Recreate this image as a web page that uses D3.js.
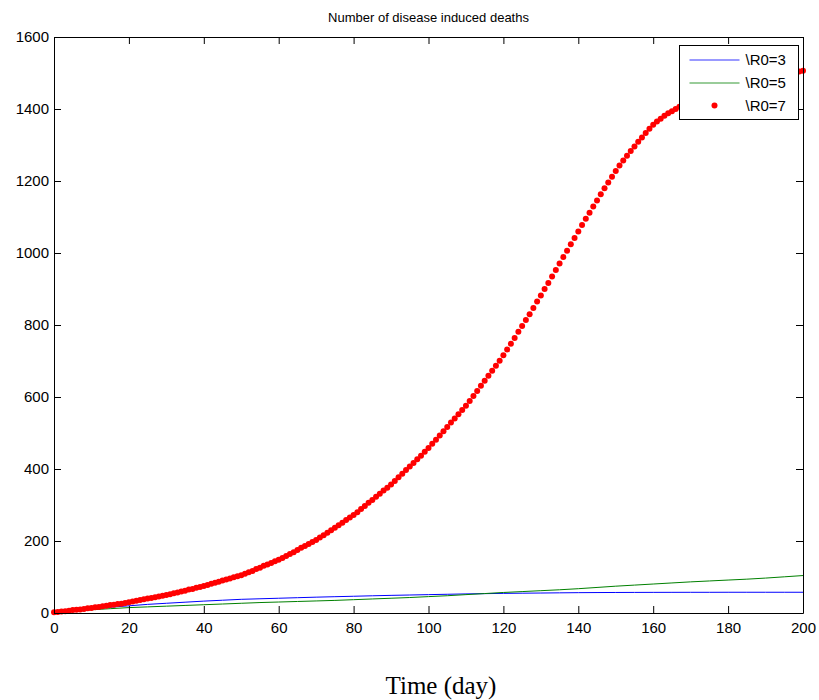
<!DOCTYPE html>
<html>
    <head>
        <meta charset="utf-8">
        <title>Number of disease induced deaths</title>
        <script src="https://d3js.org/d3.v7.min.js"></script>
        <style>
            body { margin: 0; background: #fff; }
            svg text { font-family: Arial, "Liberation Sans", Helvetica, sans-serif; fill: #000; }
        </style>
    </head>
    <body>
        <svg class="chart" width="819" height="700"></svg>

        <script>
            // time in days
            const days = d3.range(0, 201)        // daily points (R0=7 markers)
            const days5 = d3.range(0, 201, 5)    // every 5 days (R0=3, R0=5 lines)

            // R0=3 deaths, read every 5 days
            const deathsR3 = [0, 6, 11, 16, 20, 24, 27, 30, 33, 35.5, 38, 39.5, 41, 42.5, 44, 45.3, 46.5, 47.8, 49, 50,
                51, 52, 53, 53.8, 54.5, 55, 55.5, 56, 56.5, 56.8, 57, 57.2, 57.3, 57.4, 57.5, 57.5, 57.6, 57.6, 57.6, 57.6, 57.6]

            // R0=5 deaths, read every 5 days
            const deathsR5 = [0, 5, 9, 12, 15, 17, 19, 21, 23, 25, 27, 29, 30.5, 32, 33.5, 35, 37, 39, 41, 43,
                45.5, 48, 51, 54, 57, 59.5, 62, 64.5, 67.5, 71, 74.5, 77.5, 80.5, 83.5, 86.5, 89, 91.5, 94, 97, 100.5, 104]

            // R0=7 deaths, one value per day
            const deathsR7 = [2, 3, 4, 5, 6, 8, 9, 10, 11, 13, 14,
                16, 17, 19, 20, 22, 23, 25, 26, 28, 30,
                32, 34, 36, 38, 40, 42, 44, 46, 48, 50,
                52, 55, 57, 60, 62, 65, 67, 70, 72, 75,
                78, 81, 84, 87, 90, 93, 96, 99, 102, 105,
                109, 113, 117, 122, 126, 131, 135, 139, 144, 148,
                153, 158, 164, 169, 175, 181, 186, 192, 197, 203,
                210, 216, 223, 230, 237, 244, 251, 258, 265, 272,
                280, 289, 297, 306, 314, 323, 331, 340, 348, 357,
                367, 377, 387, 397, 407, 417, 427, 437, 448, 458,
                470, 481, 493, 505, 517, 529, 540, 552, 564, 576,
                589, 603, 617, 631, 645, 659, 673, 687, 701, 716,
                732, 748, 764, 781, 797, 814, 830, 847, 865, 882,
                900, 917, 935, 953, 971, 989, 1006, 1024, 1042, 1060,
                1078, 1095, 1112, 1129, 1146, 1163, 1180, 1196, 1212, 1228,
                1243, 1257, 1270, 1283, 1296, 1309, 1321, 1333, 1345, 1356,
                1365, 1373, 1381, 1388, 1394, 1400, 1406, 1411, 1417, 1422,
                1427, 1431, 1435, 1439, 1443, 1447, 1451, 1455, 1459, 1463,
                1466, 1469, 1471, 1474, 1476, 1479, 1481, 1484, 1486, 1488,
                1490, 1492, 1494, 1496, 1498, 1500, 1501, 1503, 1504, 1506]

            const xTicks = [0, 20, 40, 60, 80, 100, 120, 140, 160, 180, 200]
            const yTicks = [0, 200, 400, 600, 800, 1000, 1200, 1400, 1600]
            const legendLabels = ["\\R0=3", "\\R0=5", "\\R0=7"]

            const svg = d3.select("svg.chart")
            const plotLeft = 54, plotRight = 803, plotTop = 37, plotBottom = 613
            const tick = 7

            const xScale = d3.scaleLinear().domain([0, 200]).range([plotLeft, plotRight])
            const yScale = d3.scaleLinear().domain([0, 1600]).range([plotBottom, plotTop])

            // lines for R0=3 and R0=5
            const line = d3.line()
                .x((d, i) => xScale(days5[i]))
                .y(d => yScale(d))

            svg.append("path")
                .datum(deathsR3)
                .attr("fill", "none")
                .attr("stroke", "#0000ff")
                .attr("stroke-width", 1)
                .attr("d", line)

            svg.append("path")
                .datum(deathsR5)
                .attr("fill", "none")
                .attr("stroke", "#008000")
                .attr("stroke-width", 1)
                .attr("d", line)

            // R0=7 as red dots
            svg.append("g")
                .selectAll("circle")
                .data(deathsR7)
                .enter()
                .append("circle")
                    .attr("cx", (d, i) => xScale(days[i]))
                    .attr("cy", d => yScale(d))
                    .attr("r", 3)
                    .attr("fill", "#ff0000")

            // axes with inward ticks on all four sides
            const plain = d3.format("d")
            svg.append("g")
                .attr("transform", "translate(0," + plotBottom + ")")
                .call(d3.axisBottom(xScale).tickValues(xTicks).tickFormat(plain).tickSizeInner(-tick).tickSizeOuter(0).tickPadding(9))
            svg.append("g")
                .attr("transform", "translate(" + plotLeft + ",0)")
                .call(d3.axisLeft(yScale).tickValues(yTicks).tickFormat(plain).tickSizeInner(-tick).tickSizeOuter(0).tickPadding(5))
            svg.append("g")
                .attr("transform", "translate(0," + plotTop + ")")
                .call(d3.axisTop(xScale).tickValues(xTicks).tickSizeInner(-tick).tickSizeOuter(0).tickFormat(""))
            svg.append("g")
                .attr("transform", "translate(" + plotRight + ",0)")
                .call(d3.axisRight(yScale).tickValues(yTicks).tickSizeInner(-tick).tickSizeOuter(0).tickFormat(""))

            svg.selectAll(".tick text")
                .attr("font-size", 15)
                .attr("font-family", "Arial, 'Liberation Sans', sans-serif")
            svg.selectAll(".domain, .tick line").attr("stroke", "#000")

            // title and x label
            svg.append("text")
                .attr("x", (plotLeft + plotRight) / 2)
                .attr("y", 22)
                .attr("text-anchor", "middle")
                .attr("font-size", 13)
                .text("Number of disease induced deaths")

            svg.append("text")
                .attr("x", 441)
                .attr("y", 694)
                .attr("text-anchor", "middle")
                .attr("font-size", 25)
                .style("font-family", "'Times New Roman', 'Liberation Serif', serif")
                .text("Time (day)")

            // legend
            const legend = svg.append("g").attr("transform", "translate(679.5,45.5)")
            legend.append("rect")
                .attr("width", 119)
                .attr("height", 74)
                .attr("fill", "#fff")
                .attr("stroke", "#000")

            const colours = ["#0000ff", "#008000", "#ff0000"]
            legendLabels.forEach(function(label, i) {
                const ly = 14 + i * 23
                if (i < 2) {
                    legend.append("line")
                        .attr("x1", 10).attr("x2", 60)
                        .attr("y1", ly + 0.5).attr("y2", ly + 0.5)
                        .attr("stroke", colours[i])
                        .attr("stroke-opacity", 0.8)
                } else {
                    legend.append("circle")
                        .attr("cx", 35).attr("cy", ly)
                        .attr("r", 3)
                        .attr("fill", colours[i])
                }
                legend.append("text")
                    .attr("x", 66)
                    .attr("y", ly)
                    .attr("dy", "0.36em")
                    .attr("font-size", 15)
                    .text(label)
            })
        </script>
    </body>
</html>
